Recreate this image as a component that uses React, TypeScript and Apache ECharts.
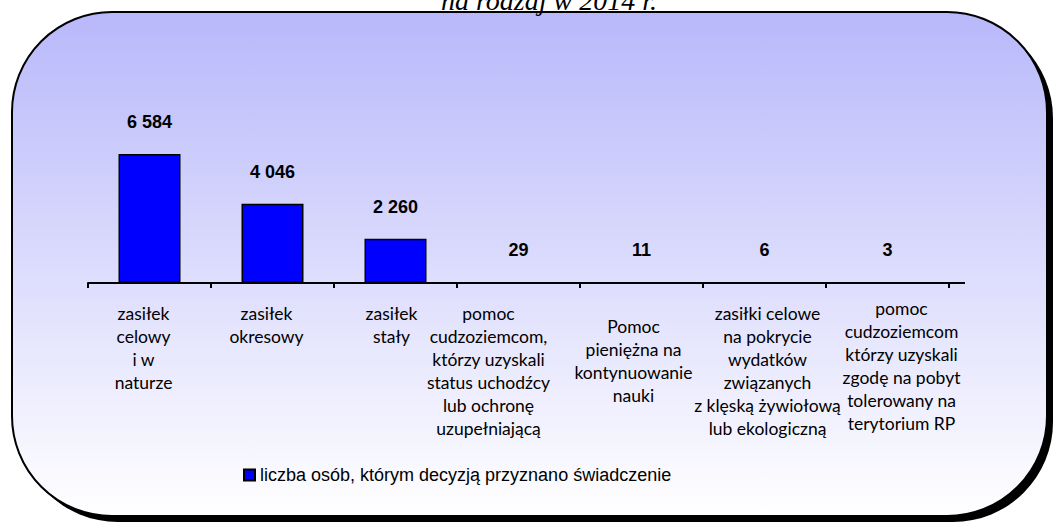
import { useEffect, useRef } from "react";
import * as echarts from "echarts";

const categories = [
  "zasiłek\ncelowy\ni w\nnaturze",
  "zasiłek\nokresowy",
  "zasiłek\nstały",
  "pomoc\ncudzoziemcom,\nktórzy uzyskali\nstatus uchodźcy\nlub ochronę\nuzupełniającą",
  "Pomoc\npieniężna na\nkontynuowanie\nnauki",
  "zasiłki celowe\nna pokrycie\nwydatków\nzwiązanych\nz klęską żywiołową\nlub ekologiczną",
  "pomoc\ncudzoziemcom\nktórzy uzyskali\nzgodę na pobyt\ntolerowany na\nterytorium RP",
];
const values = [6584, 4046, 2260, 29, 11, 6, 3];
const seriesName = "liczba osób, którym decyzją przyznano świadczenie";
const titleText = "na rodzaj w 2014 r.";

// layout tweaks for category labels (px)
const labelShiftX = [-6, -6, -4, -30, -8, 3, 14];
const labelShiftY = [5, 5, 5, 5, 18, 5, 0];

const fmt = (v: number) => String(v).replace(/\B(?=(\d{3})+(?!\d))/g, " ");

export default function App() {
  const ref = useRef<HTMLDivElement>(null);
  useEffect(() => {
    document.body.style.margin = "0";
    const chart = echarts.init(ref.current!, undefined, { renderer: "svg" });
    const catData = categories.map((c, i) => {
      const dx = labelShiftX[i];
      const pad = [labelShiftY[i], dx < 0 ? -2 * dx : 0, 0, dx > 0 ? 2 * dx : 0];
      return { value: c, textStyle: { padding: pad } };
    });
    chart.setOption({
      animation: false,
      graphic: [
        {
          type: "rect",
          z: -10,
          shape: { x: 18, y: 18, width: 1035, height: 504, r: 100 },
          style: { fill: "#000" },
          silent: true,
        },
        {
          type: "rect",
          z: -9,
          shape: { x: 12, y: 12, width: 1035, height: 504, r: 100 },
          style: {
            fill: new echarts.graphic.LinearGradient(0, 0, 0, 1, [
              { offset: 0, color: "#B8B8FB" },
              { offset: 1, color: "#FFFFFF" },
            ]),
            stroke: "#000",
            lineWidth: 2,
          },
          silent: true,
        },
        {
          type: "text",
          z: -8,
          x: 549,
          y: 0,
          style: {
            text: titleText,
            font: "italic 28px 'Liberation Serif', 'Times New Roman', serif",
            fill: "#000",
            align: "center",
            verticalAlign: "middle",
          },
        },
        {
          type: "line",
          z: 5,
          shape: { x1: 949, y1: 283, x2: 965, y2: 283 },
          style: { stroke: "#000", lineWidth: 2 },
        },
      ],
      legend: {
        left: 243,
        top: 466,
        padding: 0,
        itemWidth: 11,
        itemHeight: 11,
        itemGap: 5,
        icon: "rect",
        textStyle: {
          fontFamily: "'Liberation Sans', Arial, sans-serif",
          fontSize: 18,
          color: "#000",
        },
        data: [seriesName],
      },
      grid: { left: 88, right: 107, top: 87, bottom: 243, containLabel: false },
      xAxis: {
        type: "category",
        data: catData,
        axisLine: { lineStyle: { color: "#000", width: 2 } },
        axisTick: { show: true, length: 5, lineStyle: { color: "#000", width: 2 } },
        axisLabel: {
          interval: 0,
          margin: 13.5,
          fontFamily: "Lato, 'Open Sans', sans-serif",
          fontSize: 17.5,
          lineHeight: 23,
          color: "#000",
          align: "center",
          verticalAlign: "top",
        },
      },
      yAxis: {
        type: "value",
        min: 0,
        max: 10000,
        show: false,
        splitLine: { show: false },
      },
      series: [
        {
          name: seriesName,
          type: "bar",
          data: values,
          barWidth: 62,
          itemStyle: { color: "#0000FF", borderColor: "#000", borderWidth: 1.5 },
          label: {
            show: true,
            position: "top",
            distance: 23,
            formatter: (p: any) => fmt(p.value),
            fontFamily: "'Liberation Sans', Arial, sans-serif",
            fontWeight: "bold",
            fontSize: 18,
            color: "#000",
          },
        },
      ],
    });
    return () => chart.dispose();
  }, []);
  return <div ref={ref} style={{ width: 1056, height: 526 }} />;
}
